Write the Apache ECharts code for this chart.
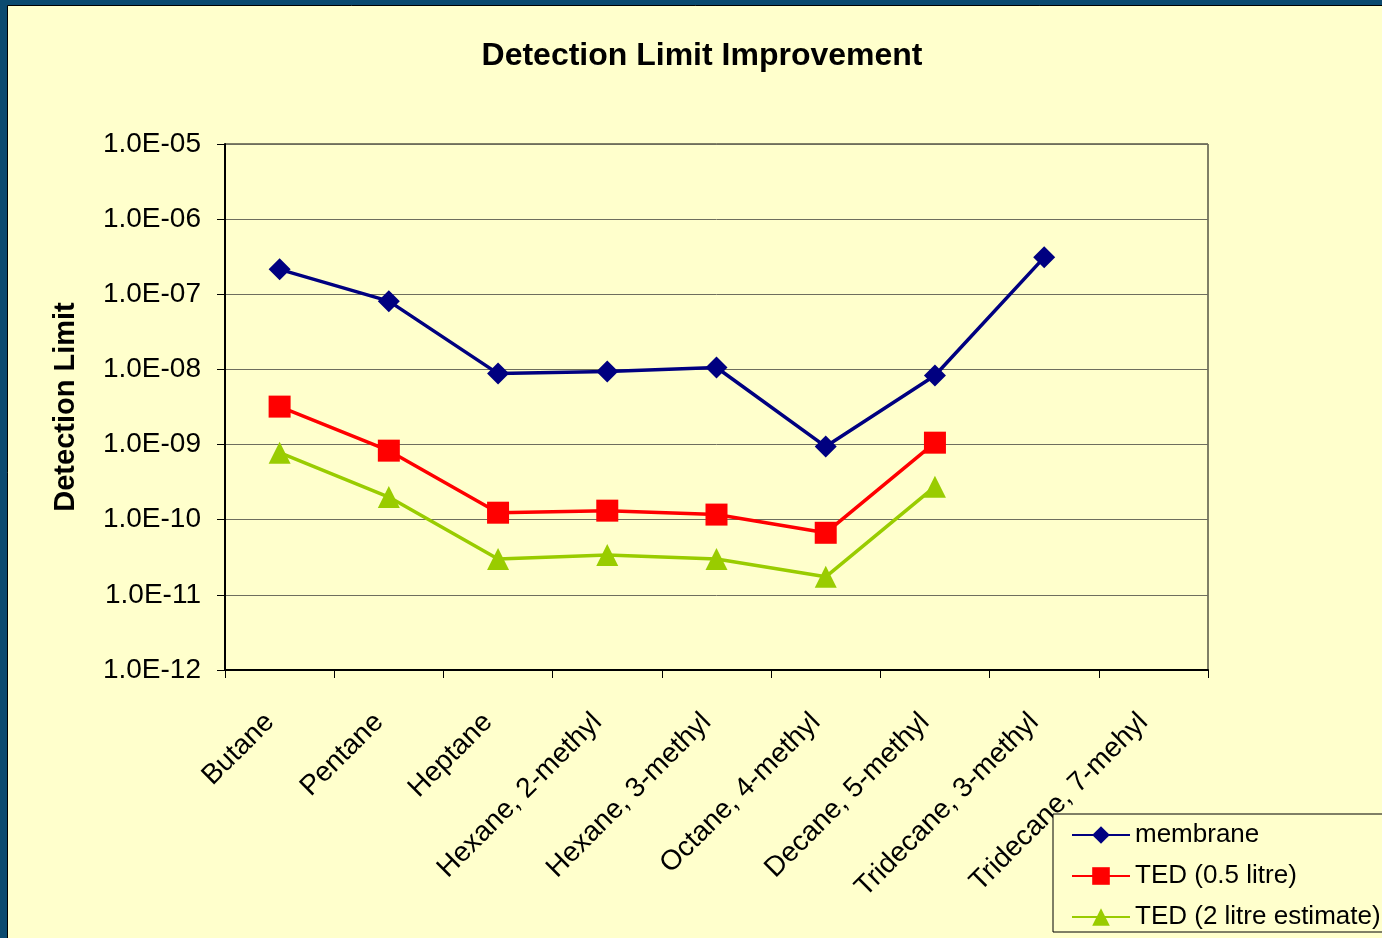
<!DOCTYPE html>
<html>
<head>
<meta charset="utf-8">
<title>Detection Limit Improvement</title>
<script src="https://cdn.jsdelivr.net/npm/echarts@6/dist/echarts.min.js"></script>
<style>
  html, body { margin: 0; padding: 0; background: #0b4a70; }
  #chart { width: 1382px; height: 938px; }
</style>
</head>
<body>
<div id="chart"></div>
<script>
// categories along the x axis
var compounds = [
  "Butane", "Pentane", "Heptane", "Hexane, 2-methyl", "Hexane, 3-methyl",
  "Octane, 4-methyl", "Decane, 5-methyl", "Tridecane, 3-methyl", "Tridecane, 7-mehyl"
];
// detection limits
var membrane = [2.15e-7, 8.1e-8, 8.8e-9, 9.4e-9, 1.06e-8, 9.4e-10, 8.3e-9, 3.1e-7, null];
var ted05 = [3.2e-9, 8.3e-10, 1.24e-10, 1.32e-10, 1.17e-10, 6.7e-11, 1.06e-9, null, null];
var ted2 = [7.8e-10, 2.0e-10, 3.0e-11, 3.4e-11, 3.0e-11, 1.74e-11, 2.75e-10, null, null];

var seriesNames = ["membrane", "TED (0.5 litre)", "TED (2 litre estimate)"];

var font = "Arial, 'Liberation Sans', sans-serif";

// 1.0E-05 style labels
function sci(v) {
  var s = v.toExponential(1).toUpperCase();
  var parts = s.split("E");
  var exp = parseInt(parts[1], 10);
  var sign = exp < 0 ? "-" : "+";
  var a = Math.abs(exp);
  return parts[0] + "E" + sign + (a < 10 ? "0" + a : a);
}

var chart = echarts.init(document.getElementById("chart"));
chart.setOption({
  backgroundColor: "#0b4a70",
  animation: false,
  graphic: [
    {
      type: "rect",
      z: -10,
      shape: { x: 7.5, y: 5.5, width: 1400, height: 1000 },
      style: { fill: "#ffffcc", stroke: "#000", lineWidth: 1 }
    }
  ],
  title: {
    text: "Detection Limit Improvement",
    left: 697,
    top: 35,
    textAlign: "center",
    textStyle: { fontFamily: font, fontSize: 32, fontWeight: "bold", color: "#000" }
  },
  legend: {
    orient: "vertical",
    left: 1053,
    top: 814,
    padding: [8, 60, 2, 18],
    itemGap: 15,
    itemWidth: 58,
    itemHeight: 22,
    backgroundColor: "#ffffcc",
    borderColor: "#000",
    borderWidth: 1,
    textStyle: { fontFamily: font, fontSize: 26, color: "#000" },
    data: seriesNames
  },
  grid: {
    left: 225,
    right: 174,
    top: 144,
    bottom: 268,
    show: true,
    borderColor: "#000",
    borderWidth: 1,
    backgroundColor: "transparent"
  },
  xAxis: {
    type: "category",
    data: compounds,
    boundaryGap: true,
    axisLine: { lineStyle: { color: "#000", width: 2 } },
    axisTick: { show: true, length: 8, lineStyle: { color: "#000", width: 1 } },
    axisLabel: {
      rotate: 45,
      margin: 38,
      padding: [0, 14, 0, 0],
      interval: 0,
      fontFamily: font,
      fontSize: 28,
      color: "#000"
    }
  },
  yAxis: {
    type: "log",
    logBase: 10,
    min: 1e-12,
    max: 1e-5,
    name: "Detection Limit",
    nameLocation: "middle",
    nameGap: 145,
    nameTextStyle: { fontFamily: font, fontSize: 29, fontWeight: "bold", color: "#000" },
    axisLine: { show: true, lineStyle: { color: "#000", width: 2 } },
    axisTick: { show: true, length: 8, lineStyle: { color: "#000" } },
    splitLine: { show: true, lineStyle: { color: "#6e6e5e", width: 1 } },
    axisLabel: {
      margin: 24,
      fontFamily: font,
      fontSize: 28,
      color: "#000",
      formatter: sci
    }
  },
  series: [
    {
      name: seriesNames[0],
      type: "line",
      data: membrane,
      symbol: "diamond",
      symbolSize: 22,
      lineStyle: { color: "#000080", width: 3.5 },
      itemStyle: { color: "#000080" }
    },
    {
      name: seriesNames[1],
      type: "line",
      data: ted05,
      symbol: "rect",
      symbolSize: 22,
      lineStyle: { color: "#ff0000", width: 3.5 },
      itemStyle: { color: "#ff0000" }
    },
    {
      name: seriesNames[2],
      type: "line",
      data: ted2,
      symbol: "triangle",
      symbolSize: 22,
      lineStyle: { color: "#99cc00", width: 3.5 },
      itemStyle: { color: "#99cc00" }
    }
  ]
});
</script>
</body>
</html>
